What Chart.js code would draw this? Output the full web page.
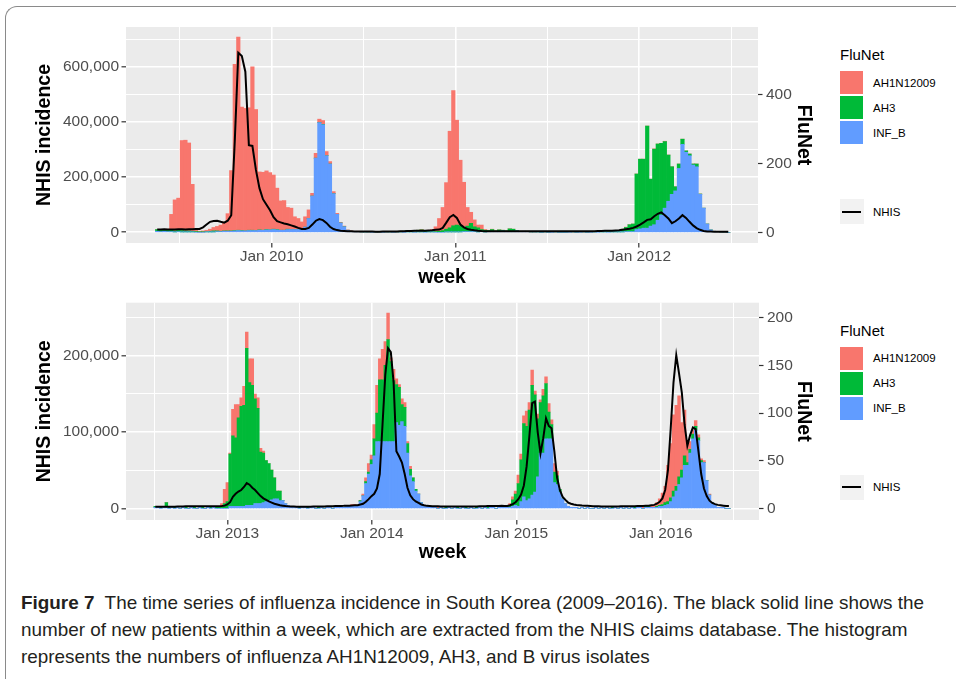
<!DOCTYPE html>
<html lang="en">
<head>
<meta charset="utf-8">
<title>Figure 7 - influenza incidence in South Korea</title>
<script src="https://cdn.jsdelivr.net/npm/chart.js@4.4.1/dist/chart.umd.min.js"></script>
<style>
  html, body { margin: 0; padding: 0; background: #fff; }
  body { position: relative; width: 956px; height: 679px; overflow: hidden; font-family: "Liberation Sans", Arial, sans-serif; }
  .frame { position: absolute; left: 5px; top: 6px; width: 1000px; height: 720px; border-left: 1px solid #8a8a8a; border-top: 1px solid #8a8a8a; border-top-left-radius: 12px; }
  canvas { position: absolute; left: 20px; }
  #panel1 { top: 15px; }
  #panel2 { top: 290px; }
  .lg { position: absolute; left: 840px; color: #000; white-space: nowrap; }
  .lg-title { font-size: 15px; line-height: 18px; }
  .lg-key { width: 23px; height: 23px; }
  .lg-line { width: 24px; height: 25px; background: #f2f2f2; }
  .lg-line::after { content: ""; position: absolute; left: 2px; width: 19px; top: 11.5px; height: 2px; background: #000; }
  .lg-text { left: 873px; font-size: 11.5px; line-height: 14px; }
  #caption { position: absolute; left: 21px; top: 589px; font-size: 19px; line-height: 27px; color: #231f20; white-space: nowrap; transform-origin: 0 0; }
  #caption div { display: block; width: max-content; }
</style>
</head>
<body>
<div class="frame"></div>
<canvas id="panel1" width="810" height="285"></canvas>
<canvas id="panel2" width="810" height="285"></canvas>
<div id="legends"></div>
<div id="caption">
  <div id="capline1"><b>Figure 7</b>&nbsp; The time series of influenza incidence in South Korea (2009–2016). The black solid line shows the</div>
  <div>number of new patients within a week, which are extracted from the NHIS claims database. The histogram</div>
  <div>represents the numbers of influenza AH1N12009, AH3, and B virus isolates</div>
</div>
<script>
// ---- data: weekly FluNet isolates (right axis) and NHIS new patients (left axis)
// panel 1: weeks starting 2009-05-19, panel 2: weeks starting 2012-07-03
const FIRST_WEEK_1 = '2009-05-19';
const FIRST_WEEK_2 = '2012-07-03';

const AH1N1_1 = [
  0, 0, 1, 2, 46, 90, 93, 261, 263, 255,
  136, 5, 2, 3, 4, 6, 10, 13, 18, 26,
  50, 175, 482, 560, 358, 355, 355, 474, 351, 168,
  168, 170, 166, 157, 120, 85, 86, 63, 62, 37,
  32, 20, 30, 25, 8, 14, 10, 11, 12, 7,
  6, 3, 2, 2, 1, 1, 0, 1, 0, 0,
  0, 0, 0, 0, 0, 0, 0, 0, 0, 0,
  0, 0, 0, 0, 0, 1, 0, 1, 4, 14,
  37, 67, 135, 280, 392, 304, 190, 131, 54, 32,
  20, 8, 13, 2, 1, 1, 0, 0, 0, 0,
  0, 0, 0, 0, 0, 0, 0, 0, 0, 0,
  0, 0, 0, 0, 0, 0, 0, 0, 0, 0,
  0, 0, 0, 0, 0, 1, 0, 0, 0, 0,
  0, 0, 0, 1, 0, 0, 0, 0, 0, 0,
  0, 1, 0, 0, 1, 0, 0, 0, 0, 0,
  0, 0, 0, 0, 0, 0, 0, 0, 0, 0,
  0, 0, 0
];
const AH3_1 = [
  5, 6, 4, 5, 4, 3, 4, 4, 3, 3,
  2, 2, 1, 1, 1, 2, 3, 2, 1, 1,
  1, 1, 1, 1, 1, 0, 1, 1, 0, 1,
  0, 1, 0, 1, 1, 0, 0, 1, 0, 0,
  0, 0, 0, 0, 0, 0, 0, 1, 0, 0,
  0, 0, 0, 0, 0, 0, 0, 0, 0, 1,
  0, 1, 0, 0, 1, 0, 1, 1, 0, 2,
  3, 4, 2, 1, 5, 6, 3, 4, 3, 2,
  3, 5, 8, 12, 18, 20, 18, 12, 16, 24,
  14, 12, 6, 5, 3, 5, 2, 4, 2, 1,
  8, 6, 1, 1, 0, 1, 0, 0, 1, 0,
  0, 0, 1, 0, 0, 0, 0, 1, 0, 0,
  1, 0, 0, 1, 1, 2, 1, 2, 2, 3,
  3, 4, 8, 12, 20, 22, 161, 202, 200, 296,
  136, 219, 221, 208, 193, 134, 80, 12, 13, 15,
  4, 5, 3, 8, 1, 0, 0, 0, 0, 0,
  0, 0, 0
];
const INFB_1 = [
  3, 2, 3, 2, 2, 1, 2, 1, 1, 1,
  1, 0, 0, 0, 1, 1, 1, 2, 2, 3,
  3, 3, 4, 5, 4, 4, 5, 5, 5, 6,
  6, 7, 7, 8, 7, 6, 6, 8, 8, 8,
  8, 10, 15, 40, 105, 215, 318, 312, 222, 198,
  112, 52, 27, 16, 6, 3, 2, 2, 1, 1,
  1, 0, 1, 1, 0, 1, 1, 0, 1, 1,
  0, 1, 1, 0, 1, 1, 0, 1, 1, 0,
  0, 0, 1, 1, 1, 1, 1, 2, 2, 2,
  2, 1, 2, 1, 2, 3, 2, 3, 4, 3,
  2, 3, 4, 2, 3, 2, 1, 1, 1, 0,
  1, 0, 0, 1, 0, 0, 0, 0, 1, 0,
  0, 1, 0, 0, 1, 0, 1, 1, 0, 1,
  1, 1, 1, 2, 2, 2, 8, 10, 12, 12,
  18, 22, 35, 50, 70, 90, 110, 120, 185, 255,
  232, 222, 195, 190, 110, 70, 24, 7, 3, 2,
  1, 1, 0
];
const NHIS_1 = [
  10000, 10500, 11000, 10500, 10000, 10500, 11000, 11000, 10500, 11000,
  11000, 11500, 12000, 18000, 28000, 38000, 41000, 42000, 38000, 35000,
  42000, 62000, 330000, 651000, 639000, 582000, 316000, 313000, 226000, 160000,
  120000, 100000, 80000, 55000, 40000, 36000, 32000, 29000, 25000, 21000,
  16000, 12000, 12000, 16000, 28000, 42000, 48000, 44000, 34000, 20000,
  12000, 8000, 6000, 5000, 4000, 3500, 3000, 3000, 2800, 2600,
  2500, 2500, 2400, 2400, 2500, 2600, 2800, 3000, 3200, 3500,
  4000, 4500, 5000, 5200, 5500, 6000, 6000, 6500, 7000, 9000,
  10000, 16000, 35000, 55000, 63000, 52000, 28000, 18000, 12000, 9000,
  7000, 5500, 4500, 4000, 3800, 3600, 3600, 3500, 3500, 3600,
  3600, 3500, 3400, 3400, 3500, 3500, 3400, 3400, 3500, 3500,
  3500, 3400, 3400, 3500, 3600, 3600, 3700, 3700, 3800, 3800,
  3700, 3800, 3900, 4000, 4200, 4500, 4800, 5200, 5600, 6000,
  6500, 7000, 9000, 11000, 13000, 16000, 21000, 28000, 36000, 45000,
  47000, 58000, 67000, 72000, 62000, 50000, 33000, 40000, 50000, 62000,
  52000, 38000, 25000, 15000, 9000, 5000, 3000, 2500, 2200, 2000,
  2000, 1800, 1800
];

const AH1N1_2 = [
  0, 0, 0, 0, 0, 0, 0, 0, 0, 0,
  0, 0, 0, 1, 0, 0, 0, 0, 0, 0,
  0, 0, 0, 1, 4, 15, 20, 1, 28, 35,
  14, 9, 20, 17, 25, 28, 5, 11, 4, 2,
  0, 0, 0, 0, 0, 0, 0, 0, 0, 0,
  0, 0, 0, 0, 0, 0, 0, 0, 0, 0,
  0, 0, 0, 0, 0, 0, 0, 0, 0, 1,
  0, 1, 1, 0, 0, 2, 4, 9, 5, 15,
  29, 22, 32, 25, 28, 4, 12, 6, 3, 6,
  5, 2, 3, 0, 0, 0, 0, 0, 0, 0,
  0, 0, 1, 0, 0, 0, 0, 0, 0, 0,
  0, 0, 0, 0, 0, 0, 0, 0, 0, 0,
  0, 0, 0, 0, 0, 0, 0, 0, 2, 3,
  3, 9, 6, 8, 16, 8, 16, 4, 5, 3,
  7, 7, 9, 5, 9, 5, 0, 0, 0, 0,
  0, 0, 0, 0, 0, 0, 0, 0, 0, 0,
  0, 0, 0, 0, 0, 0, 0, 0, 0, 0,
  0, 0, 0, 0, 0, 0, 1, 0, 1, 2,
  2, 4, 7, 12, 17, 38, 57, 80, 85, 85,
  50, 48, 20, 8, 4, 6, 3, 2, 2, 0,
  1, 0, 0, 0, 0, 0, 0, 0
];
const AH3_2 = [
  1, 0, 1, 0, 5, 1, 0, 1, 0, 0,
  0, 1, 0, 0, 1, 0, 0, 1, 0, 0,
  1, 0, 1, 1, 1, 5, 7, 55, 74, 72,
  93, 105, 106, 165, 129, 126, 110, 100, 54, 52,
  43, 39, 31, 22, 8, 10, 0, 0, 0, 0,
  0, 0, 1, 0, 0, 1, 0, 0, 0, 1,
  0, 0, 1, 0, 0, 1, 0, 1, 0, 0,
  1, 0, 0, 0, 1, 0, 2, 2, 5, 18,
  30, 65, 65, 80, 107, 84, 64, 40, 40, 18,
  20, 10, 7, 4, 2, 0, 0, 0, 0, 0,
  0, 1, 0, 0, 0, 1, 0, 0, 0, 1,
  0, 0, 1, 0, 0, 0, 1, 0, 0, 0,
  1, 0, 1, 0, 1, 0, 1, 2, 2, 7,
  12, 24, 44, 77, 78, 93, 115, 102, 61, 53,
  60, 58, 28, 15, 11, 9, 3, 0, 0, 0,
  0, 0, 0, 0, 0, 0, 0, 0, 0, 0,
  0, 1, 0, 0, 0, 1, 0, 0, 0, 0,
  0, 0, 0, 1, 0, 0, 0, 1, 1, 0,
  0, 1, 1, 2, 3, 3, 4, 6, 5, 8,
  8, 10, 3, 4, 5, 4, 3, 2, 0, 0,
  0, 0, 0, 0, 0, 0, 0, 0
];
const INFB_2 = [
  1, 1, 0, 1, 1, 0, 1, 0, 1, 0,
  1, 0, 0, 1, 0, 0, 1, 0, 0, 1,
  0, 1, 0, 0, 0, 0, 0, 2, 2, 2,
  2, 2, 2, 3, 3, 3, 5, 5, 5, 6,
  7, 8, 9, 10, 10, 8, 8, 5, 3, 2,
  1, 1, 0, 1, 1, 0, 1, 1, 0, 0,
  1, 0, 1, 1, 0, 1, 1, 2, 1, 2,
  2, 3, 3, 3, 7, 13, 26, 36, 46, 55,
  70, 70, 70, 70, 70, 70, 70, 90, 87, 91,
  86, 58, 34, 28, 18, 15, 6, 3, 2, 1,
  1, 1, 0, 1, 0, 0, 1, 0, 1, 0,
  0, 1, 0, 0, 1, 0, 0, 1, 0, 1,
  0, 1, 1, 0, 1, 1, 1, 1, 1, 2,
  3, 2, 7, 12, 8, 10, 14, 17, 33, 58,
  58, 73, 73, 73, 27, 25, 17, 10, 5, 2,
  1, 1, 1, 0, 1, 0, 1, 0, 0, 1,
  0, 1, 0, 1, 0, 0, 1, 0, 1, 0,
  1, 0, 1, 0, 1, 1, 0, 1, 1, 1,
  1, 1, 2, 2, 3, 4, 7, 12, 18, 25,
  32, 45, 45, 58, 73, 82, 71, 48, 48, 29,
  14, 6, 3, 1, 1, 1, 0, 0
];
const NHIS_2 = [
  2000, 2000, 2100, 2000, 2200, 2100, 2000, 2200, 2300, 2400,
  2500, 2600, 2700, 2800, 2800, 2800, 2700, 2700, 2600, 2600,
  2600, 2600, 2700, 2800, 3000, 3500, 5000, 8000, 15000, 19000,
  22000, 24000, 28000, 33000, 31000, 27000, 24000, 20000, 16000, 13000,
  11000, 9000, 7500, 6000, 5000, 4000, 3500, 3000, 2600, 2400,
  2300, 2200, 2200, 2200, 2200, 2200, 2200, 2300, 2300, 2400,
  2400, 2500, 2600, 2700, 2800, 2900, 3000, 3100, 3200, 3400,
  3500, 3700, 3900, 4000, 5000, 6000, 8500, 12000, 16000, 19000,
  26000, 45000, 110000, 175000, 210000, 205000, 165000, 75000, 68000, 60000,
  45000, 27000, 17000, 12000, 9000, 7000, 5000, 4000, 3200, 3000,
  2800, 2700, 2600, 2500, 2500, 2400, 2400, 2400, 2300, 2300,
  2300, 2300, 2300, 2400, 2400, 2500, 2500, 2600, 2700, 2800,
  2900, 3000, 3000, 3100, 3100, 3200, 3000, 3000, 4000, 5500,
  8000, 12000, 18000, 30000, 55000, 95000, 138000, 140000, 100000, 72000,
  92000, 118000, 108000, 105000, 75000, 40000, 24000, 15000, 11000, 7500,
  6000, 5000, 4400, 4000, 3600, 3400, 3200, 3000, 2800, 2700,
  2600, 2500, 2500, 2500, 2500, 2500, 2500, 2500, 2600, 2600,
  2700, 2700, 2800, 2800, 2900, 3000, 3100, 3300, 3500, 4000,
  4500, 6000, 8500, 13000, 24000, 50000, 105000, 165000, 201000, 177000,
  152000, 110000, 82000, 96000, 106000, 104000, 75000, 45000, 26000, 16000,
  10000, 7000, 5500, 4500, 4000, 3500, 3000, 3000
];

// secondary axis: FluNet = NHIS / 1250
const NHIS_PER_FLUNET = 1250;

const NHIS_TICKS_1 = [0, 200000, 400000, 600000];
const NHIS_MINOR_1 = [100000, 300000, 500000, 700000];
const FLUNET_TICKS_1 = [0, 200, 400];
const NHIS_TICKS_2 = [0, 100000, 200000];
const NHIS_MINOR_2 = [50000, 150000, 250000];
const FLUNET_TICKS_2 = [0, 50, 100, 150, 200];

const SERIES = ['AH1N12009', 'AH3', 'INF_B'];
const COLORS = { AH1N12009: '#F8766D', AH3: '#00BA38', INF_B: '#619CFF' };

// ---- drawing
const FONT = '"Liberation Sans", Arial, sans-serif';
const DAY = 86400000;
const TICK_FONT = { family: FONT, size: 15.5, lineHeight: 1 };
const TITLE_FONT = { family: FONT, size: 19.5, weight: 'bold', lineHeight: 1.2 };

const panelBg = {
  id: 'panelBg',
  beforeDraw(chart) {
    const { ctx, chartArea: a } = chart;
    ctx.save();
    ctx.fillStyle = '#EBEBEB';
    ctx.fillRect(a.left, a.top, a.width, a.height);
    ctx.restore();
  }
};

function weekly(start, n) {
  const t0 = Date.parse(start + 'T00:00:00Z');
  return Array.from({ length: n }, (_, k) => t0 + k * 7 * DAY);
}

function drawPanel(p) {
  const xs = weekly(p.firstWeek, p.nhis.length);
  const pts = arr => arr.map((v, k) => ({ x: xs[k], y: v }));
  const xMin = Date.parse(p.xFrom + 'T00:00:00Z');
  const xMax = Date.parse(p.xTo + 'T00:00:00Z');

  const majorX = [], xTicks = [];
  for (let yr = 2008; yr <= 2017; yr++) {
    const a = Date.UTC(yr, 0, 1);
    const mid = (a + Date.UTC(yr + 1, 0, 1)) / 2;
    if (a >= xMin && a <= xMax) { majorX.push(a); xTicks.push(a); }
    if (mid >= xMin && mid <= xMax) xTicks.push(mid);
  }
  const yTicks = p.nhisTicks.concat(p.nhisMinor).sort((a, b) => a - b);
  const isMajorX = c => c.tick && majorX.includes(c.tick.value);
  const isMajorY = c => c.tick && p.nhisTicks.includes(c.tick.value);

  const bar = (name, arr) => ({
    label: name, data: pts(arr), yAxisID: 'yR', stack: 'flu', order: 1,
    backgroundColor: COLORS[name], borderWidth: 0,
    barPercentage: 1, categoryPercentage: 1
  });

  new Chart(document.getElementById(p.canvas), {
    type: 'bar',
    data: {
      datasets: [
        { type: 'line', label: 'NHIS', data: pts(p.nhis), yAxisID: 'y', order: 0,
          borderColor: '#000', borderWidth: 2, pointRadius: 0, tension: 0, fill: false },
        bar('INF_B', p.infB),
        bar('AH3', p.ah3),
        bar('AH1N12009', p.ah1n1)
      ]
    },
    options: {
      responsive: false,
      animation: false,
      events: [],
      layout: { autoPadding: false, padding: { top: p.padTop, left: 0, right: 0, bottom: 0 } },
      plugins: { legend: { display: false }, tooltip: { enabled: false } },
      scales: {
        x: {
          type: 'linear', min: xMin, max: xMax, offset: false, stacked: true,
          afterBuildTicks: s => { s.ticks = xTicks.map(v => ({ value: v })); },
          afterFit: s => { s.height = p.xAxisH; },
          ticks: {
            autoSkip: false, maxRotation: 0, padding: 1, color: '#4D4D4D', font: TICK_FONT,
            callback: v => majorX.includes(v) ? 'Jan ' + new Date(v).getUTCFullYear() : ''
          },
          grid: {
            offset: false, color: '#fff',
            lineWidth: c => isMajorX(c) ? 1.6 : 1,
            tickLength: 4.5, tickWidth: 1.2,
            tickColor: c => isMajorX(c) ? '#333' : 'rgba(0,0,0,0)'
          },
          border: { display: false },
          title: { display: true, text: 'week', color: '#000', font: TITLE_FONT, padding: { top: 0, bottom: 11 } }
        },
        y: {
          position: 'left', min: p.nhisMin, max: p.nhisMax,
          afterBuildTicks: s => { s.ticks = yTicks.map(v => ({ value: v })); },
          afterFit: s => { s.width = 106; },
          ticks: {
            padding: 2.5, color: '#4D4D4D', font: TICK_FONT,
            callback: v => p.nhisTicks.includes(v) ? v.toLocaleString('en-US') : ''
          },
          grid: {
            color: '#fff',
            lineWidth: c => isMajorY(c) ? 1.6 : 1,
            tickLength: 4.5, tickWidth: 1.2,
            tickColor: c => isMajorY(c) ? '#333' : 'rgba(0,0,0,0)'
          },
          border: { display: false },
          title: { display: true, text: 'NHIS incidence', color: '#000', font: TITLE_FONT, padding: { top: 13, bottom: 0 } }
        },
        yR: {
          position: 'right', stacked: true,
          min: p.nhisMin / NHIS_PER_FLUNET, max: p.nhisMax / NHIS_PER_FLUNET,
          afterBuildTicks: s => { s.ticks = p.fluTicks.map(v => ({ value: v })); },
          afterFit: s => { s.width = p.rightW; },
          ticks: { padding: 3.5, color: '#4D4D4D', font: TICK_FONT, callback: v => String(v) },
          grid: { drawOnChartArea: false, tickLength: 4.5, tickWidth: 1.2, tickColor: '#333' },
          border: { display: false },
          title: { display: true, text: 'FluNet', color: '#000', font: TITLE_FONT, padding: { top: 15, bottom: 0 } }
        }
      }
    },
    plugins: [panelBg]
  });
}

// legend beside a panel, placed relative to the panel's plot top
function drawLegend(top) {
  const box = document.getElementById('legends');
  const add = (cls, y, css, text) => {
    const d = document.createElement('div');
    d.className = 'lg ' + cls;
    d.style.top = y + 'px';
    if (css) d.style.background = css;
    if (text) d.textContent = text;
    box.appendChild(d);
  };
  add('lg-title', top + 19, null, 'FluNet');
  SERIES.forEach((name, k) => {
    add('lg-key', top + 44 + k * 25, COLORS[name]);
    add('lg-text', top + 48.5 + k * 25, null, name);
  });
  add('lg-line', top + 172);
  add('lg-text', top + 177.5, null, 'NHIS');
}

drawPanel({
  canvas: 'panel1', firstWeek: FIRST_WEEK_1,
  ah1n1: AH1N1_1, ah3: AH3_1, infB: INFB_1, nhis: NHIS_1,
  nhisTicks: NHIS_TICKS_1, nhisMinor: NHIS_MINOR_1, fluTicks: FLUNET_TICKS_1,
  nhisMin: -38800, nhisMax: 744000,
  xFrom: '2009-03-18', xTo: '2012-08-24',
  padTop: 12, xAxisH: 57, rightW: 72
});
drawPanel({
  canvas: 'panel2', firstWeek: FIRST_WEEK_2,
  ah1n1: AH1N1_2, ah3: AH3_2, infB: INFB_2, nhis: NHIS_2,
  nhisTicks: NHIS_TICKS_2, nhisMinor: NHIS_MINOR_2, fluTicks: FLUNET_TICKS_2,
  nhisMin: -15350, nhisMax: 269800,
  xFrom: '2012-04-20', xTo: '2016-09-05',
  padTop: 12.7, xAxisH: 55, rightW: 71
});
drawLegend(27);
drawLegend(302.7);

// the caption font in the figure is a condensed face: squeeze to its width
const cap = document.getElementById('caption');
const w1 = document.getElementById('capline1').getBoundingClientRect().width;
cap.style.transform = 'scaleX(' + (903 / w1).toFixed(4) + ')';
</script>
</body>
</html>
